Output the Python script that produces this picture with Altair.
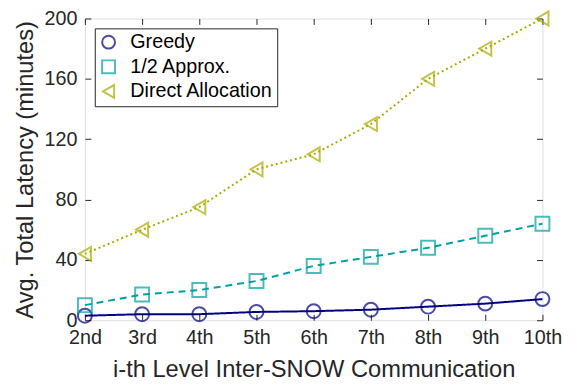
import altair as alt
import pandas as pd

levels = ["2nd", "3rd", "4th", "5th", "6th", "7th", "8th", "9th", "10th"]
greedy = [3, 4, 4, 5.5, 6, 7, 9, 11, 14]
approx = [10, 17, 20, 26, 36, 42, 48, 56, 64]
direct = [44, 60, 75, 100, 110, 130, 160, 180, 200]
series = ["Greedy", "1/2 Approx.", "Direct Allocation"]
colors = ["#000080", "#00A0A0", "#AAAA00"]
shapes = ["circle", "square", "triangle-left"]
dashes = [[1, 0], [7, 5], [2, 3]]

rows = []
for name, vals in zip(series, [greedy, approx, direct]):
    for lv, v in zip(levels, vals):
        rows.append({"level": lv, "value": v, "series": name})
df = pd.DataFrame(rows)

font = "Liberation Sans"
xscale = alt.Scale(type="point", padding=0, domain=levels)
yscale = alt.Scale(domain=[0, 200])
yticks = [0, 40, 80, 120, 160, 200]

xaxis = alt.Axis(title="i-th Level Inter-SNOW Communication", labelAngle=0, domain=False,
                 offset=-6, tickSize=6, labelPadding=8, tickColor="#262626",
                 labelFontSize=20, titleFontSize=24, labelFont=font, titleFont=font,
                 labelColor="#262626", titleColor="#262626", titleFontWeight="normal", titlePadding=10,
                 grid=False)
yaxis = alt.Axis(title="Avg. Total Latency (minutes)", values=yticks,
                 domain=False, offset=-6, tickSize=6, labelPadding=8, tickColor="#262626",
                 labelFontSize=20, titleFontSize=24, labelFont=font, titleFont=font,
                 labelColor="#262626", titleColor="#262626", titleFontWeight="normal", titlePadding=7,
                 grid=False)

color = alt.Color("series:N", scale=alt.Scale(domain=series, range=colors),
                  legend=alt.Legend(title=None, orient="top-left", offset=10,
                                    labelFont=font, labelFontSize=20, labelColor="black",
                                    strokeColor="#262626", fillColor="white", padding=4,
                                    symbolStrokeWidth=2, symbolSize=170, rowPadding=3,
                                    labelLimit=300, labelOffset=12))

X = alt.X("level:N", scale=xscale, sort=levels, axis=xaxis)
Y = alt.Y("value:Q", scale=yscale, axis=yaxis)

base = alt.Chart(df)
line_layers = []
for name, dash in zip(series, dashes):
    line_layers.append(
        base.transform_filter(alt.datum.series == name)
        .mark_line(strokeWidth=2, strokeDash=dash)
        .encode(x=X, y=Y, color=color)
    )

points = base.mark_point(filled=False, strokeWidth=2, size=200).encode(
    x=X, y=Y, color=color,
    shape=alt.Shape("series:N", scale=alt.Scale(domain=series, range=shapes)),
)

main = alt.layer(*line_layers, points)

top_right = base.mark_point(opacity=0).encode(
    x=alt.X("level:N", scale=xscale, sort=levels,
            axis=alt.Axis(orient="top", title=None, labels=False, domain=False, offset=-6,
                          tickSize=6, tickColor="#262626", grid=False)),
    y=alt.Y("value:Q", scale=yscale,
            axis=alt.Axis(orient="right", title=None, labels=False, domain=False, offset=-6,
                          tickSize=6, tickColor="#262626", values=yticks, grid=False)),
)

chart = alt.layer(main, top_right).resolve_axis(x="independent", y="independent").properties(
    width=464, height=306,
    autosize=alt.AutoSizeParams(type="none"),
    padding={"left": 78, "top": 8, "right": 32, "bottom": 60},
).configure_view(stroke="#262626", strokeWidth=1).configure(background="white")

chart.save("out.html", embed_options={"renderer": "svg", "actions": False})
